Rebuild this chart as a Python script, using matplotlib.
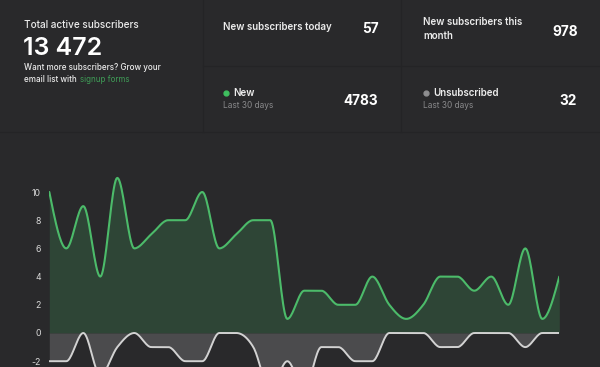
import numpy as np
import matplotlib
matplotlib.use('Agg')
import matplotlib.pyplot as plt

plt.rcParams['font.family'] = ['Inter', 'DejaVu Sans']

# daily values, last 30 days (31 points)
new_subs = [10, 6, 9, 4, 11, 6, 7, 8, 8, 10, 6, 7, 8, 8, 1, 3, 3, 2, 2, 4,
            2, 1, 2, 4, 4, 3, 4, 2, 6, 1, 4]
unsubscribed = [-2, -2, 0, -3, -1, 0, -1, -1, -2, -2, 0, 0, -1, -4, -2, -4,
                -1, -1, -2, -2, 0, 0, 0, -1, -1, 0, 0, 0, -1, 0, 0]
yticks = [10, 8, 6, 4, 2, 0, -2]

total_active = '13 472'
today = '57'
this_month = '978'
new_30 = '4783'
unsub_30 = '32'

bg = '#29292b'
sep = '#242426'
green = '#4cbb6a'
green_fill = '#2e4536'
grey_fill = '#4b4b4d'
grey_line = '#d2d2d2'
W, H = 600, 367


def monotone(y, n=20):
    # monotone cubic (like d3 curveMonotoneX), unit spacing
    y = np.asarray(y, float)
    s = np.diff(y)
    t = np.zeros_like(y)
    for i in range(1, len(y) - 1):
        s0, s1 = s[i - 1], s[i]
        p = (s0 + s1) / 2
        t[i] = (np.sign(s0) + np.sign(s1)) * min(abs(s0), abs(s1), 0.5 * abs(p))
    t[0] = (3 * s[0] - t[1]) / 2
    t[-1] = (3 * s[-1] - t[-2]) / 2
    xs, ys = [], []
    for i in range(len(y) - 1):
        u = np.linspace(0, 1, n, endpoint=False)
        h00 = 2 * u**3 - 3 * u**2 + 1
        h10 = u**3 - 2 * u**2 + u
        h01 = -2 * u**3 + 3 * u**2
        h11 = u**3 - u**2
        xs.append(i + u)
        ys.append(h00 * y[i] + h10 * t[i] + h01 * y[i + 1] + h11 * t[i + 1])
    xs.append([len(y) - 1])
    ys.append([y[-1]])
    return np.concatenate(xs), np.concatenate(ys)


fig = plt.figure(figsize=(W / 100, H / 100), dpi=100, facecolor=bg)


def px(x, y):
    return x / W, 1 - y / H


def txt(x, y, s, **kw):
    fx, fy = px(x, y)
    kw.setdefault('va', 'center')
    kw.setdefault('color', '#ececec')
    fig.text(fx, fy, s, **kw)


# card separators
for x in (203, 401):
    fig.add_artist(plt.Line2D([x / W] * 2, [1, 1 - 132 / H], color=sep, lw=1))
fig.add_artist(plt.Line2D([203 / W, 1], [1 - 66 / H] * 2, color=sep, lw=1))
fig.add_artist(plt.Line2D([0, 1], [1 - 132 / H] * 2, color=sep, lw=1))

# cards
txt(24, 25.5, 'Total active subscribers', fontsize=7.2, fontweight='medium')
txt(23, 48.5, total_active, fontsize=18, fontweight='semibold', color='white')
txt(24, 67.5, 'Want more subscribers? Grow your', fontsize=5.8, fontweight='medium')
txt(24, 79, 'email list with', fontsize=5.8, fontweight='medium')
txt(79.5, 79, 'signup forms', fontsize=5.8, color='#3f9d57')

txt(223, 27, 'New subscribers today', fontsize=7.0, fontweight='semibold')
txt(379, 29, today, fontsize=9.8, fontweight='bold', ha='right', color='white')
txt(423, 22, 'New subscribers this', fontsize=7.0, fontweight='semibold')
txt(423, 36, 'month', fontsize=7.0, fontweight='semibold')
txt(578, 32, this_month, fontsize=9.8, fontweight='bold', ha='right', color='white')

fx, fy = px(226, 93)
fig.add_artist(plt.Line2D([fx], [fy], marker='o', ms=3.5, color='#3fbf5f', lw=0))
txt(233, 93, 'New', fontsize=7.0, fontweight='semibold')
txt(223, 106, 'Last 30 days', fontsize=6.0, color='#8a8a8c')
txt(378, 101, new_30, fontsize=9.8, fontweight='bold', ha='right', color='white')

fx, fy = px(426, 93)
fig.add_artist(plt.Line2D([fx], [fy], marker='o', ms=3.5, color='#8e8e90', lw=0))
txt(433, 93, 'Unsubscribed', fontsize=7.0, fontweight='semibold')
txt(423, 106, 'Last 30 days', fontsize=6.0, color='#8a8a8c')
txt(577, 101, unsub_30, fontsize=9.8, fontweight='bold', ha='right', color='white')

# chart
top_px = 160
ax = fig.add_axes([49.3 / W, 0, 510 / W, (H - top_px) / H])
ax.set_facecolor(bg)
ppu = (333 - 192) / 10.0
ax.set_xlim(0, 30)
ax.set_ylim(-(H - 333) / ppu, (333 - top_px) / ppu)

x_new, y_new = monotone(new_subs)
x_uns, y_uns = monotone(unsubscribed)
ax.fill_between(x_new, 0, y_new, color=green_fill, lw=0)
ax.fill_between(x_uns, 0, y_uns, color=grey_fill, lw=0)
ax.plot(x_uns, y_uns, color=grey_line, lw=1.4, solid_capstyle='round')
ax.plot(x_new, y_new, color=green, lw=1.5, solid_capstyle='round')

ax.set_yticks(yticks)
ax.set_yticklabels([str(v) for v in yticks])
ax.set_xticks([])
ax.tick_params(axis='y', length=0, pad=6, labelsize=6.3, labelcolor='#d8d8d8')
for sp in ax.spines.values():
    sp.set_visible(False)

fig.savefig('out.png', dpi=100, facecolor=bg)
